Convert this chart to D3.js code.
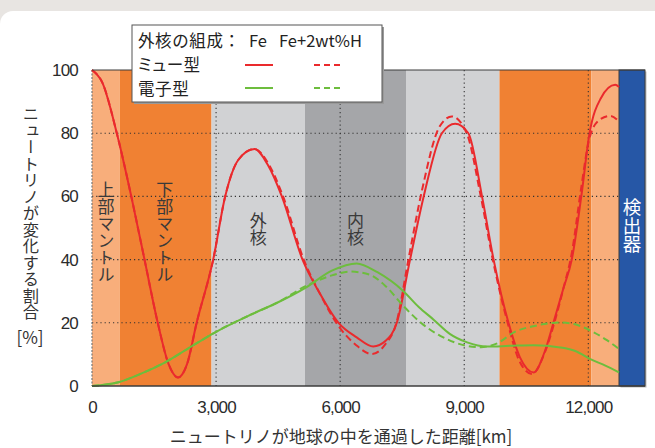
<!DOCTYPE html>
<html><head><meta charset="utf-8">
<script src="https://cdn.jsdelivr.net/npm/d3@7/dist/d3.min.js"></script>
<style>
html,body{margin:0;padding:0;background:#e8e5e2;}
svg{display:block;}
</style></head>
<body>
<svg id="chart" width="655" height="448"></svg>
<script>
// ---------------- data ----------------
const xTicks = [0, 3000, 6000, 9000, 12000];
const yTicks = [0, 20, 40, 60, 80, 100];
const earthDiameter = 12742;

const regionNames = ["上部マントル", "下部マントル", "外核", "内核", "外核", "下部マントル", "上部マントル"];
const regionStarts = [0, 670, 2890, 5150, 7592, 9852, 12072];
const regionEnds   = [670, 2890, 5150, 7592, 9852, 12072, 12742];
const regionKinds  = ["upper", "lower", "outer", "inner", "outer", "lower", "upper"];
const regionLabelShown = [true, true, true, true, false, false, false];

// ミュー型, 外核 Fe (solid red)
const muFeX = [0,250,600,950,1270,1590,1850,2080,2300,2530,2930,3220,3540,3930,4250,4590,5090,5500,5960,6400,6800,7100,7370,7690,8020,8460,8780,9100,9430,9710,10070,10350,10680,10950,11200,11400,11600,11830,12030,12300,12650,12742];
const muFeY = [100,96,80,60,40,20,7,2.7,7,20,40,60,71.6,75,70,60,40,29.5,20,15.4,12.5,14.3,20,40,60,80,83,80,60,40,20,9,4.3,11,22,31,40,60,80,91,95.3,94.6];
// ミュー型, 外核 Fe+2wt%H (dashed red)
const muHX = [0,250,600,950,1270,1590,1850,2080,2300,2530,2930,3220,3540,3930,4280,4620,5120,5520,5960,6380,6770,7080,7360,7650,7980,8400,8700,9060,9400,9690,10050,10330,10640,10930,11200,11400,11600,11820,12020,12250,12530,12742];
const muHY = [100,96,80,60,40,20,7,2.7,7,20,40,60,71.6,75,70,60,40,29,19,13,10.1,13,20,40,62,82,85.3,80,60,40,20,8,3.8,10,21,31,42,62,78,84,85.5,83.7];
// 電子型, 外核 Fe (solid green)
const eFeX = [0,640,1200,1770,2400,2980,3860,4500,5150,5800,6400,6900,7530,7900,8260,8650,9070,9550,10100,10680,11320,11700,12050,12400,12742];
const eFeY = [0,1.2,4,7.5,12.5,17,22.7,26.5,31,36.5,38.8,36,30,25,21,16.5,13.8,12.5,12.7,12.9,12.2,11,8.5,6.5,4.3];
// 電子型, 外核 Fe+2wt%H (dashed green)
const eHX = [0,640,1200,1770,2400,2980,3860,4500,5150,5800,6240,6700,7100,7530,8000,8420,9065,9400,9800,10200,10700,11320,11650,12130,12450,12742];
const eHY = [0,1.2,4,7.5,12.5,17,22.7,26.5,31.5,35,36.2,35.3,31.6,25.3,19.5,15.9,12.7,12.3,13.5,17,19,20.1,19.6,17,14.5,11.7];

// ---------------- layout / style ----------------
const svg = d3.select("#chart");
const W = 655, H = 448;
const plot = {left: 92, right: 619, top: 70, bottom: 386};
const detectorW = 26;
const cjk = "'Noto Sans CJK JP', 'Noto Sans', sans-serif";
const num = "'Liberation Sans Narrow', 'Liberation Sans', Arial, sans-serif";
const colors = {
  upper: "#f8ae7b", lower: "#f08133", outer: "#d1d2d4", inner: "#a5a6a9",
  detector: "#2657a6", red: "#ea2a2d", green: "#6dbd3d", frame: "#3d3d3d", grid: "#333"
};

const x = d3.scaleLinear().domain([0, earthDiameter]).range([plot.left, plot.right]);
const y = d3.scaleLinear().domain([0, 100]).range([plot.bottom, plot.top]);

// background panel
svg.append("rect").attr("x", 0).attr("y", 11).attr("width", W + 20).attr("height", H + 20)
  .attr("rx", 13).attr("fill", "#ffffff");

// regions
const regions = regionStarts.map((s, i) => ({s, e: regionEnds[i], kind: regionKinds[i], name: regionNames[i], show: regionLabelShown[i]}));
svg.append("g").selectAll("rect").data(regions).join("rect")
  .attr("x", d => x(d.s)).attr("y", plot.top)
  .attr("width", d => x(d.e) - x(d.s)).attr("height", plot.bottom - plot.top)
  .attr("fill", d => colors[d.kind]);

// detector band
const detX = x(earthDiameter);
svg.append("rect").attr("x", detX + 1.5).attr("y", plot.top + 1.5).attr("width", detectorW).attr("height", plot.bottom - plot.top)
  .attr("fill", "#bdbdbd");
svg.append("rect").attr("x", detX).attr("y", plot.top).attr("width", detectorW).attr("height", plot.bottom - plot.top)
  .attr("fill", colors.detector).attr("stroke", colors.frame).attr("stroke-width", 1);

// grid
const gGrid = svg.append("g").attr("stroke", colors.grid).attr("stroke-width", 1.1).attr("stroke-dasharray", "1.2,3");
gGrid.selectAll("line.h").data(yTicks.filter(v => v > 0 && v < 100)).join("line").attr("class", "h")
  .attr("x1", plot.left).attr("x2", plot.right).attr("y1", d => y(d)).attr("y2", d => y(d));
gGrid.selectAll("line.v").data(xTicks.filter(v => v > 0)).join("line").attr("class", "v")
  .attr("x1", d => x(d)).attr("x2", d => x(d)).attr("y1", plot.top).attr("y2", plot.bottom);
svg.append("line").attr("x1", plot.left).attr("x2", plot.left).attr("y1", plot.top).attr("y2", plot.bottom)
  .attr("stroke", "#777").attr("stroke-width", 1.2).attr("stroke-dasharray", "2,1.5");

// region labels (vertical)
svg.append("g").selectAll("text").data(regions.filter(d => d.show)).join("text")
  .attr("x", d => (d.kind === "upper" || d.kind === "lower") ? x(d.s) + (d.kind === "upper" ? 14 : 45) : x((d.s + d.e) / 2))
  .attr("y", d => (d.kind === "outer" || d.kind === "inner") ? 212 : 181)
  .style("writing-mode", "vertical-rl")
  .attr("font-family", cjk).attr("font-size", 17).attr("fill", "#3a3a3a")
  .text(d => d.name);

svg.append("text").attr("x", detX + detectorW / 2).attr("y", 198)
  .style("writing-mode", "vertical-rl")
  .attr("font-family", cjk).attr("font-size", 18.5).attr("fill", "#ffffff")
  .text("検出器");

// curves
const line = d3.line().x(d => x(d[0])).y(d => y(d[1])).curve(d3.curveMonotoneX);
const series = [
  {xs: muFeX, ys: muFeY, color: colors.red, dash: null},
  {xs: muHX, ys: muHY, color: colors.red, dash: "7,4"},
  {xs: eFeX, ys: eFeY, color: colors.green, dash: null},
  {xs: eHX, ys: eHY, color: colors.green, dash: "7,4"}
];
svg.append("g").selectAll("path").data(series).join("path")
  .attr("d", d => line(d.xs.map((v, i) => [v, d.ys[i]])))
  .attr("fill", "none").attr("stroke", d => d.color).attr("stroke-width", 2)
  .attr("stroke-dasharray", d => d.dash);

// frame
svg.append("line").attr("x1", plot.left).attr("x2", detX + detectorW).attr("y1", plot.top).attr("y2", plot.top)
  .attr("stroke", colors.frame).attr("stroke-width", 1.2);
svg.append("line").attr("x1", plot.left).attr("x2", detX + detectorW).attr("y1", plot.bottom).attr("y2", plot.bottom)
  .attr("stroke", colors.frame).attr("stroke-width", 1.5);

// axes
const yAxis = svg.append("g").attr("transform", `translate(${plot.left},0)`)
  .call(d3.axisLeft(y).tickValues(yTicks).tickSize(0).tickPadding(14));
yAxis.select(".domain").remove();
yAxis.selectAll("text").attr("font-family", num).attr("font-size", 17).attr("fill", "#2b2b2b")
  .attr("letter-spacing", -0.8);

const xAxis = svg.append("g").attr("transform", `translate(0,${plot.bottom})`)
  .call(d3.axisBottom(x).tickValues(xTicks).tickSize(0).tickPadding(15).tickFormat(d3.format(",")));
xAxis.select(".domain").remove();
xAxis.selectAll("text").attr("font-family", num).attr("font-size", 17).attr("fill", "#2b2b2b")
  .attr("letter-spacing", -0.8);

// axis titles
svg.append("text").attr("x", 31).attr("y", 106)
  .style("writing-mode", "vertical-rl")
  .attr("font-family", cjk).attr("font-size", 16.3).attr("fill", "#333").attr("letter-spacing", 0.2)
  .text("ニュートリノが変化する割合");
svg.append("text").attr("x", 30).attr("y", 344).attr("text-anchor", "middle")
  .attr("font-family", cjk).attr("font-size", 17).attr("fill", "#333").text("[%]");
svg.append("text").attr("x", 341).attr("y", 443).attr("text-anchor", "middle")
  .attr("font-family", cjk).attr("font-size", 17).attr("fill", "#333")
  .text("ニュートリノが地球の中を通過した距離[km]");

// legend
const lg = svg.append("g");
lg.append("rect").attr("x", 134).attr("y", 27).attr("width", 250).attr("height", 77).attr("fill", "#9a9a9a");
lg.append("rect").attr("x", 132).attr("y", 25).attr("width", 250).attr("height", 77)
  .attr("fill", "#fff").attr("stroke", "#555").attr("stroke-width", 1);
const lfs = 16.5;
lg.append("text").attr("x", 138).attr("y", 47).attr("font-family", cjk).attr("font-size", lfs).attr("fill", "#222")
  .attr("letter-spacing", 0.6).text("外核の組成：");
lg.append("text").attr("x", 249).attr("y", 47).attr("font-family", cjk).attr("font-size", lfs).attr("fill", "#222").text("Fe");
lg.append("text").attr("x", 279).attr("y", 47).attr("font-family", cjk).attr("font-size", lfs).attr("fill", "#222").text("Fe+2wt%H");
const legendRows = [{label: "ミュー型", color: colors.red, ty: 71, ly: 65}, {label: "電子型", color: colors.green, ty: 95, ly: 88}];
legendRows.forEach(r => {
  lg.append("text").attr("x", 138).attr("y", r.ty).attr("font-family", cjk).attr("font-size", lfs).attr("fill", "#222")
    .style("font-feature-settings", "'palt'").attr("letter-spacing", 0.6).text(r.label);
  lg.append("line").attr("x1", 245).attr("x2", 273).attr("y1", r.ly).attr("y2", r.ly)
    .attr("stroke", r.color).attr("stroke-width", 2);
  lg.append("line").attr("x1", 314).attr("x2", 341).attr("y1", r.ly).attr("y2", r.ly)
    .attr("stroke", r.color).attr("stroke-width", 2).attr("stroke-dasharray", "6,4");
});
</script>
</body></html>
